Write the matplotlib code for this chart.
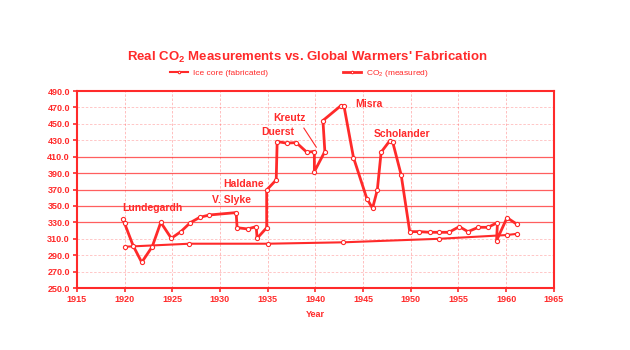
import matplotlib
matplotlib.use('Agg')
import matplotlib.pyplot as plt

plt.rcParams['font.family'] = ['Liberation Sans', 'DejaVu Sans']
plt.rcParams['mathtext.fontset'] = 'custom'
plt.rcParams['mathtext.rm'] = 'Liberation Sans'
plt.rcParams['mathtext.bf'] = 'Liberation Sans:bold'

RED = '#ff2a2a'

# CO2 (measured) - the wild curve
meas_year = [1919.8, 1920.0, 1920.9, 1921.8, 1922.9, 1923.8, 1924.9, 1925.9, 1926.9,
             1927.9, 1928.9, 1931.7, 1931.8, 1932.9, 1933.8, 1933.9, 1934.9, 1934.9,
             1935.9, 1936.0, 1937.0, 1938.0, 1939.1, 1939.9, 1939.9, 1941.0, 1940.8,
             1942.7, 1943.0, 1944.0, 1945.4, 1946.0, 1946.5, 1946.9, 1947.8, 1948.1,
             1949.0, 1949.9, 1950.9, 1952.0, 1953.0, 1954.0, 1955.1, 1956.0, 1957.1,
             1958.1, 1959.1, 1959.0, 1960.1, 1961.1]
meas_val = [333.8, 328.9, 301.6, 281.3, 300.4, 330.0, 310.6, 318.7, 329.7,
            336.2, 339.0, 341.9, 323.5, 322.0, 324.8, 310.6, 323.5, 369.5,
            381.7, 428.4, 426.5, 427.2, 415.5, 416.3, 391.8, 416.3, 454.0,
            472.3, 472.0, 409.0, 359.0, 347.2, 369.5, 415.5, 429.3, 428.4,
            387.8, 318.7, 318.7, 317.9, 317.9, 317.9, 324.8, 318.7, 324.0,
            324.0, 329.7, 307.7, 335.7, 328.0]

# Ice core (fabricated) - the flat line
ice_year = [1920.0, 1926.8, 1935.0, 1942.9, 1953.0, 1960.1, 1961.1]
ice_val = [300.3, 304.0, 304.0, 305.7, 310.0, 314.6, 316.0]

# annotations: text, year, value
labels = [('Lundegardh', 1919.8, 348), ('V. Slyke', 1929.2, 357),
          ('Haldane', 1930.4, 377), ('Duerst', 1934.3, 440),
          ('Kreutz', 1935.6, 457), ('Misra', 1944.2, 474),
          ('Scholander', 1946.1, 438)]

fig = plt.figure(figsize=(6.3, 3.5), dpi=100)
ax = fig.add_axes([0.122, 0.177, 0.757, 0.563])

# grid
for v in range(250, 491, 20):
    if 330 <= v <= 410:
        ax.axhline(v, color=RED, lw=0.9, alpha=0.75, zorder=0)
    else:
        ax.axhline(v, color=RED, lw=0.6, ls=(0, (3, 2)), alpha=0.3, zorder=0)
for yr in range(1920, 1965, 5):
    ax.axvline(yr, color=RED, lw=0.6, ls=(0, (3, 2)), alpha=0.35, zorder=0)

ice_line, = ax.plot(ice_year, ice_val, color=RED, lw=1.5, marker='o', ms=3,
                    mfc='white', mec=RED, mew=0.8, zorder=3)
meas_line, = ax.plot(meas_year, meas_val, color=RED, lw=2.0, marker='o', ms=3,
                     mfc='white', mec=RED, mew=0.8, zorder=4)

for txt, x, y in labels:
    ax.text(x, y, txt, color=RED, fontsize=7.5, fontweight='bold', va='center', ha='left')
ax.plot([1938.8, 1940.1], [444.8, 421.6], color=RED, lw=0.8)

ax.set_xlim(1915, 1965)
ax.set_ylim(250, 490)
ax.set_xticks(range(1915, 1966, 5))
ax.set_yticks(range(250, 491, 20))
ax.set_yticklabels(['%.1f' % v for v in range(250, 491, 20)])
ax.tick_params(colors=RED, labelsize=6.5, length=3, width=1.2, direction='out', pad=2)
for lab in ax.get_xticklabels() + ax.get_yticklabels():
    lab.set_fontweight('bold')
for sp in ax.spines.values():
    sp.set_color(RED)
    sp.set_linewidth(1.5)
ax.set_xlabel('Year', color=RED, fontsize=6.5, fontweight='bold', labelpad=4)

fig.text(0.487, 0.835, 'Real CO$_\\mathbf{2}$ Measurements vs. Global Warmers\' Fabrication',
         color=RED, fontsize=9.5, fontweight='bold', ha='center', va='center')

fig.legend([ice_line, meas_line], ['Ice core (fabricated)', 'CO$_2$ (measured)'],
           loc='center', bbox_to_anchor=(0.475, 0.79), ncol=2, frameon=False,
           fontsize=6, labelcolor=RED, columnspacing=9, handlelength=2.2,
           handletextpad=0.6, markerscale=0.6)

fig.savefig('out.png', dpi=100, facecolor='white')
